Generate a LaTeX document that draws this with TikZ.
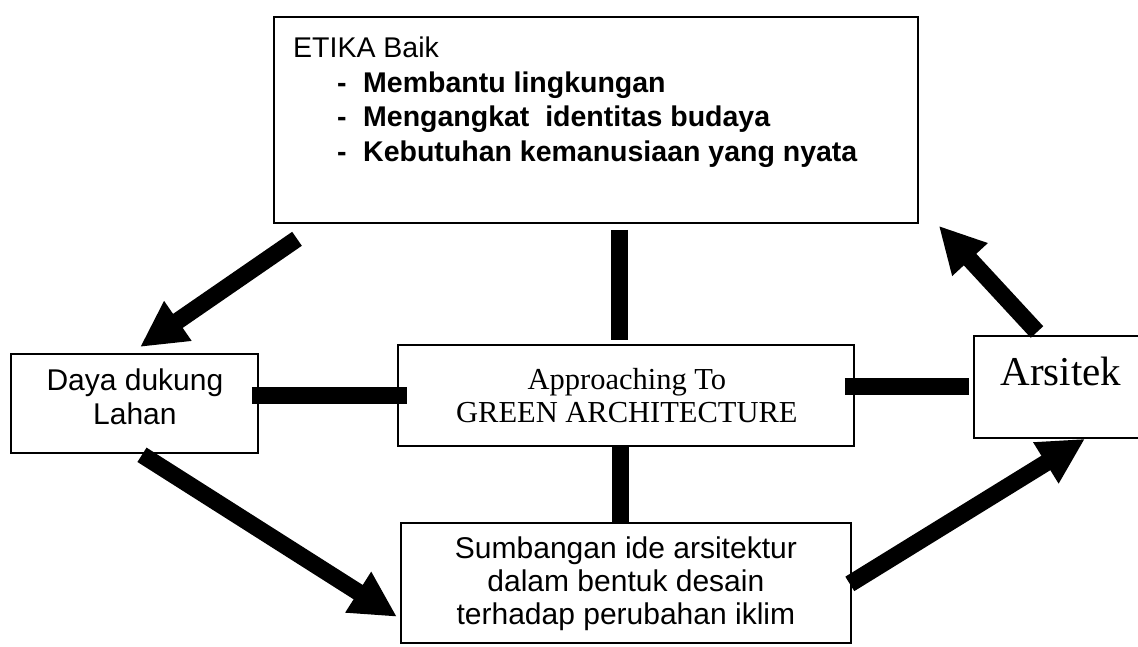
\documentclass[tikz,border=0pt]{standalone}
\usepackage{fontspec}
\setmainfont{Liberation Serif}
\setsansfont{Liberation Sans}
\usetikzlibrary{arrows.meta,calc}
\begin{document}
\begin{tikzpicture}[x=1pt,y=-1pt,
  box/.style={draw, line width=1.8pt, rectangle, inner sep=0pt, anchor=north west},
  bar/.style={line width=17pt},
  bigarrow/.style={line width=17pt, -{Triangle[length=46pt,width=45pt]}},
  sanstext/.style={font=\sffamily\fontsize{30}{34}\selectfont, align=center, inner sep=0pt},
  seriftext/.style={font=\rmfamily\fontsize{30.5}{33}\selectfont, align=center, inner sep=0pt}]
\useasboundingbox (0,0) rectangle (1138,647);

% boxes
\node[box, minimum width=644pt, minimum height=206pt] (top) at (273,16) {};
\node[box, minimum width=247pt, minimum height=99pt] (daya) at (10,353) {};
\node[box, minimum width=456pt, minimum height=101pt] (appr) at (397,344) {};
\node[box, minimum width=450pt, minimum height=120pt] (sumb) at (400,522) {};
\node[box, minimum width=180pt, minimum height=102pt] (arsitek) at (973,335) {};

% box texts
\node[anchor=north west, align=left, inner sep=0pt,
      font=\sffamily\fontsize{28.5}{34.5}\selectfont] (toptext)
  at ($(top.north west)+(20,21)$)
  {ETIKA Baik\\
   \bfseries\hspace*{44pt}\makebox[26pt][l]{-}Membantu lingkungan\\
   \bfseries\hspace*{44pt}\makebox[26pt][l]{-}Mengangkat\ \ identitas budaya\\
   \bfseries\hspace*{44pt}\makebox[26pt][l]{-}Kebutuhan kemanusiaan yang nyata};
\node[sanstext] (dayatext) at ($(daya.center)+(0.5,-7)$) {Daya dukung\\Lahan};
\node[seriftext] (apprtext) at ($(appr.center)+(1,0.5)$) {Approaching To\\GREEN ARCHITECTURE};
\node[sanstext, font=\sffamily\fontsize{30}{33}\selectfont] (sumbtext) at ($(sumb.center)+(0,1)$)
  {Sumbangan ide arsitektur\\dalam bentuk desain\\terhadap perubahan iklim};
\node[inner sep=0pt, font=\rmfamily\fontsize{41}{44}\selectfont] (arsitektext)
  at ($(arsitek.west)+(88,-15)$) {Arsitek};

% thick plain links
\draw[bar] ($(daya.east |- appr.west)+(-7,0)$) -- ($(appr.west)+(10,0)$);
\draw[bar] ($(appr.east |- arsitek.west)+(-10,0)$) -- ($(arsitek.west)+(-4,0)$);
\draw[bar] ($(top.south -| appr.north)+(-6,6)$) -- ($(appr.north)+(-6,-4)$);
\draw[bar] ($(appr.south)+(-5,0)$) -- ($(sumb.north -| appr.south)+(-5,0)$);

% the cycle of arrows
\draw[bigarrow] ($(top.south west)+(24,15)$) -- ($(daya.north west)+(130,-6)$);
\draw[bigarrow] ($(daya.south west)+(132,1)$) -- ($(sumb.south west)+(-3,-27)$);
\draw[bigarrow] ($(sumb.east)+(-2,1)$) -- ($(arsitek.south west)+(112,0)$);
\draw[bigarrow] ($(arsitek.north west)+(64,-3)$) -- ($(top.south east)+(20,2)$);
\end{tikzpicture}
\end{document}
